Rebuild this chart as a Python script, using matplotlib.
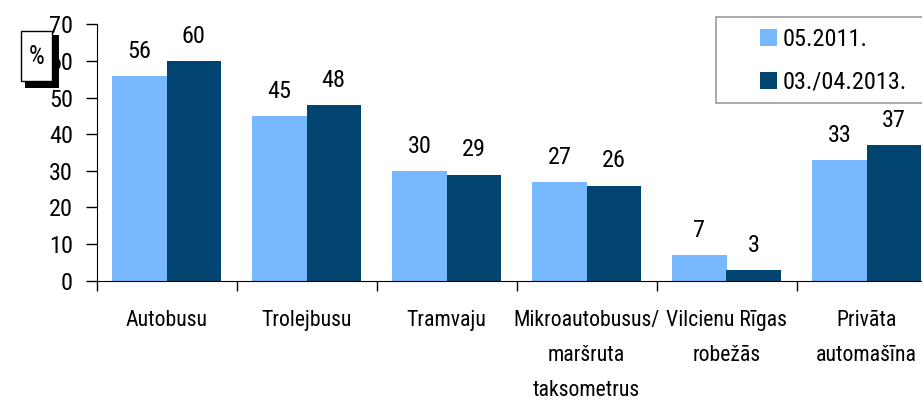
import matplotlib.pyplot as plt
from matplotlib.patches import Rectangle
import numpy as np

plt.rcParams['font.family'] = ['Liberation Sans Narrow', 'Arial Narrow', 'Roboto Condensed',
                               'Liberation Sans', 'DejaVu Sans']

categories = ["Autobusu", "Trolejbusu", "Tramvaju", "Mikroautobusus/\nmaršruta\ntaksometrus",
              "Vilcienu Rīgas\nrobežās", "Privāta\nautomašīna"]
series_names = ["05.2011.", "03./04.2013."]
values_2011 = [56, 45, 30, 27, 7, 33]
values_2013 = [60, 48, 29, 26, 3, 37]
colors = ["#77B8FF", "#00446F"]

fig = plt.figure(figsize=(9.22, 4.01), dpi=100)
ax = fig.add_axes([96.5 / 922, 1 - 280.7 / 401, 840 / 922, 256.3 / 401])

x = np.arange(len(categories))
w = 0.386
b1 = ax.bar(x - w / 2, values_2011, w, color=colors[0], label=series_names[0])
b2 = ax.bar(x + w / 2, values_2013, w, color=colors[1], label=series_names[1])

for bars, vals in ((b1, values_2011), (b2, values_2013)):
    for r, v in zip(bars, vals):
        ax.annotate(str(v), (r.get_x() + r.get_width() / 2, v), xytext=(0, 13),
                    textcoords="offset points", ha="center", va="baseline", fontsize=17.5)

ax.set_xlim(-0.5, len(categories) - 0.5)
ax.set_ylim(0, 70)
ax.set_yticks(range(0, 71, 10))
ax.set_xticks(np.arange(len(categories) + 1) - 0.5)
ax.set_xticklabels([])
ax.set_xticks(x, minor=True)
ax.set_xticklabels(categories, minor=True, fontsize=15.7, linespacing=1.87)
ax.tick_params(axis="x", which="minor", length=0, pad=21)
ax.tick_params(axis="x", which="major", length=7, width=1)
ax.tick_params(axis="y", length=8, width=1, pad=9, labelsize=17.5)
for s in ("top", "right"):
    ax.spines[s].set_visible(False)

# "%" box with shadow
fig.add_artist(Rectangle((25 / 922, 1 - 88 / 401), 34 / 922, 53 / 401,
                         transform=fig.transFigure, facecolor="black", edgecolor="none"))
fig.add_artist(Rectangle((20.7 / 922, 1 - 81 / 401), 31.6 / 922, 50 / 401,
                         transform=fig.transFigure, facecolor="white", edgecolor="black", lw=1))
fig.text(36.5 / 922, 1 - 57 / 401, "%", ha="center", va="center", fontsize=18)

# legend frame
fig.add_artist(Rectangle((716 / 922, 1 - 103 / 401), 220 / 922, 86.3 / 401,
                         transform=fig.transFigure, facecolor="white", edgecolor="#999999", lw=1.2))
fig.legend(loc="upper left", bbox_to_anchor=(760 / 922, 1 - 28 / 401), frameon=False,
           fontsize=17.5, handlelength=0.7, handleheight=0.7, handletextpad=0.24,
           labelspacing=0.82, borderpad=0, borderaxespad=0)

fig.savefig("out.png", dpi=100)
